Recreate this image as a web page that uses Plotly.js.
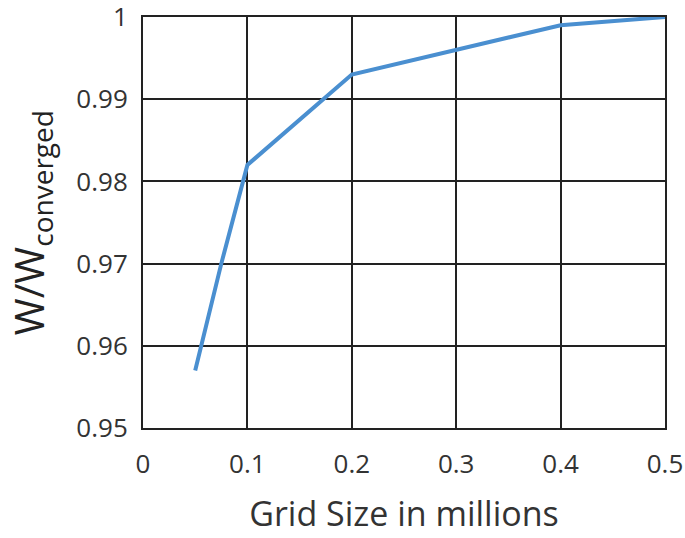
<!DOCTYPE html>
<html><head><meta charset="utf-8">
<script src="https://cdn.plot.ly/plotly-3.0.1.min.js"></script>
<style>body{margin:0;padding:0;background:#fff}</style>
</head><body>
<div id="chart" style="width:685px;height:538px"></div>
<script>
const gridSize = [0.05, 0.075, 0.1, 0.2, 0.4, 0.5];
const wRatio = [0.957, 0.970, 0.982, 0.993, 0.999, 1.0];
const xTicks = [0, 0.1, 0.2, 0.3, 0.4, 0.5];
const yTicks = [0.95, 0.96, 0.97, 0.98, 0.99, 1];
const xTickText = ['0', '0.1', '0.2', '0.3', '0.4', '0.5'];
const yTickText = ['0.95', '0.96', '0.97', '0.98', '0.99', '1'];

const font = 'Open Sans, Noto Sans, sans-serif';
Plotly.newPlot('chart', [{
  x: gridSize, y: wRatio, type: 'scatter', mode: 'lines',
  line: {color: '#4a8fd0', width: 4}
}], {
  width: 685, height: 538,
  margin: {l: 143, r: 20, t: 17, b: 110},
  paper_bgcolor: '#fff', plot_bgcolor: '#fff',
  showlegend: false,
  xaxis: {
    range: [0, 0.5], tickvals: xTicks, ticktext: xTickText,
    showgrid: true, gridcolor: '#222', gridwidth: 2,
    showline: true, linecolor: '#222', linewidth: 2, mirror: true,
    zeroline: false, ticks: '', ticklabelstandoff: 12, ticklabeloverflow: 'allow',
    tickfont: {family: font, size: 26, color: '#333'},
    title: {text: 'Grid Size in millions', font: {family: font, size: 34, color: '#333'}, standoff: 22}
  },
  yaxis: {
    range: [0.95, 1], tickvals: yTicks, ticktext: yTickText,
    showgrid: true, gridcolor: '#222', gridwidth: 2,
    showline: true, linecolor: '#222', linewidth: 2, mirror: true,
    zeroline: false, ticks: '', ticklabelstandoff: 8, ticklabeloverflow: 'allow',
    tickfont: {family: font, size: 26, color: '#333'}
  },
  annotations: [{
    text: 'W/W<sub>converged</sub>', textangle: -90,
    xref: 'paper', yref: 'paper', x: -0.215, y: 0.5,
    xanchor: 'center', yanchor: 'middle', showarrow: false,
    font: {family: font, size: 40, color: '#222'}
  }]
}, {displayModeBar: false, staticPlot: true});
</script>
</body></html>
